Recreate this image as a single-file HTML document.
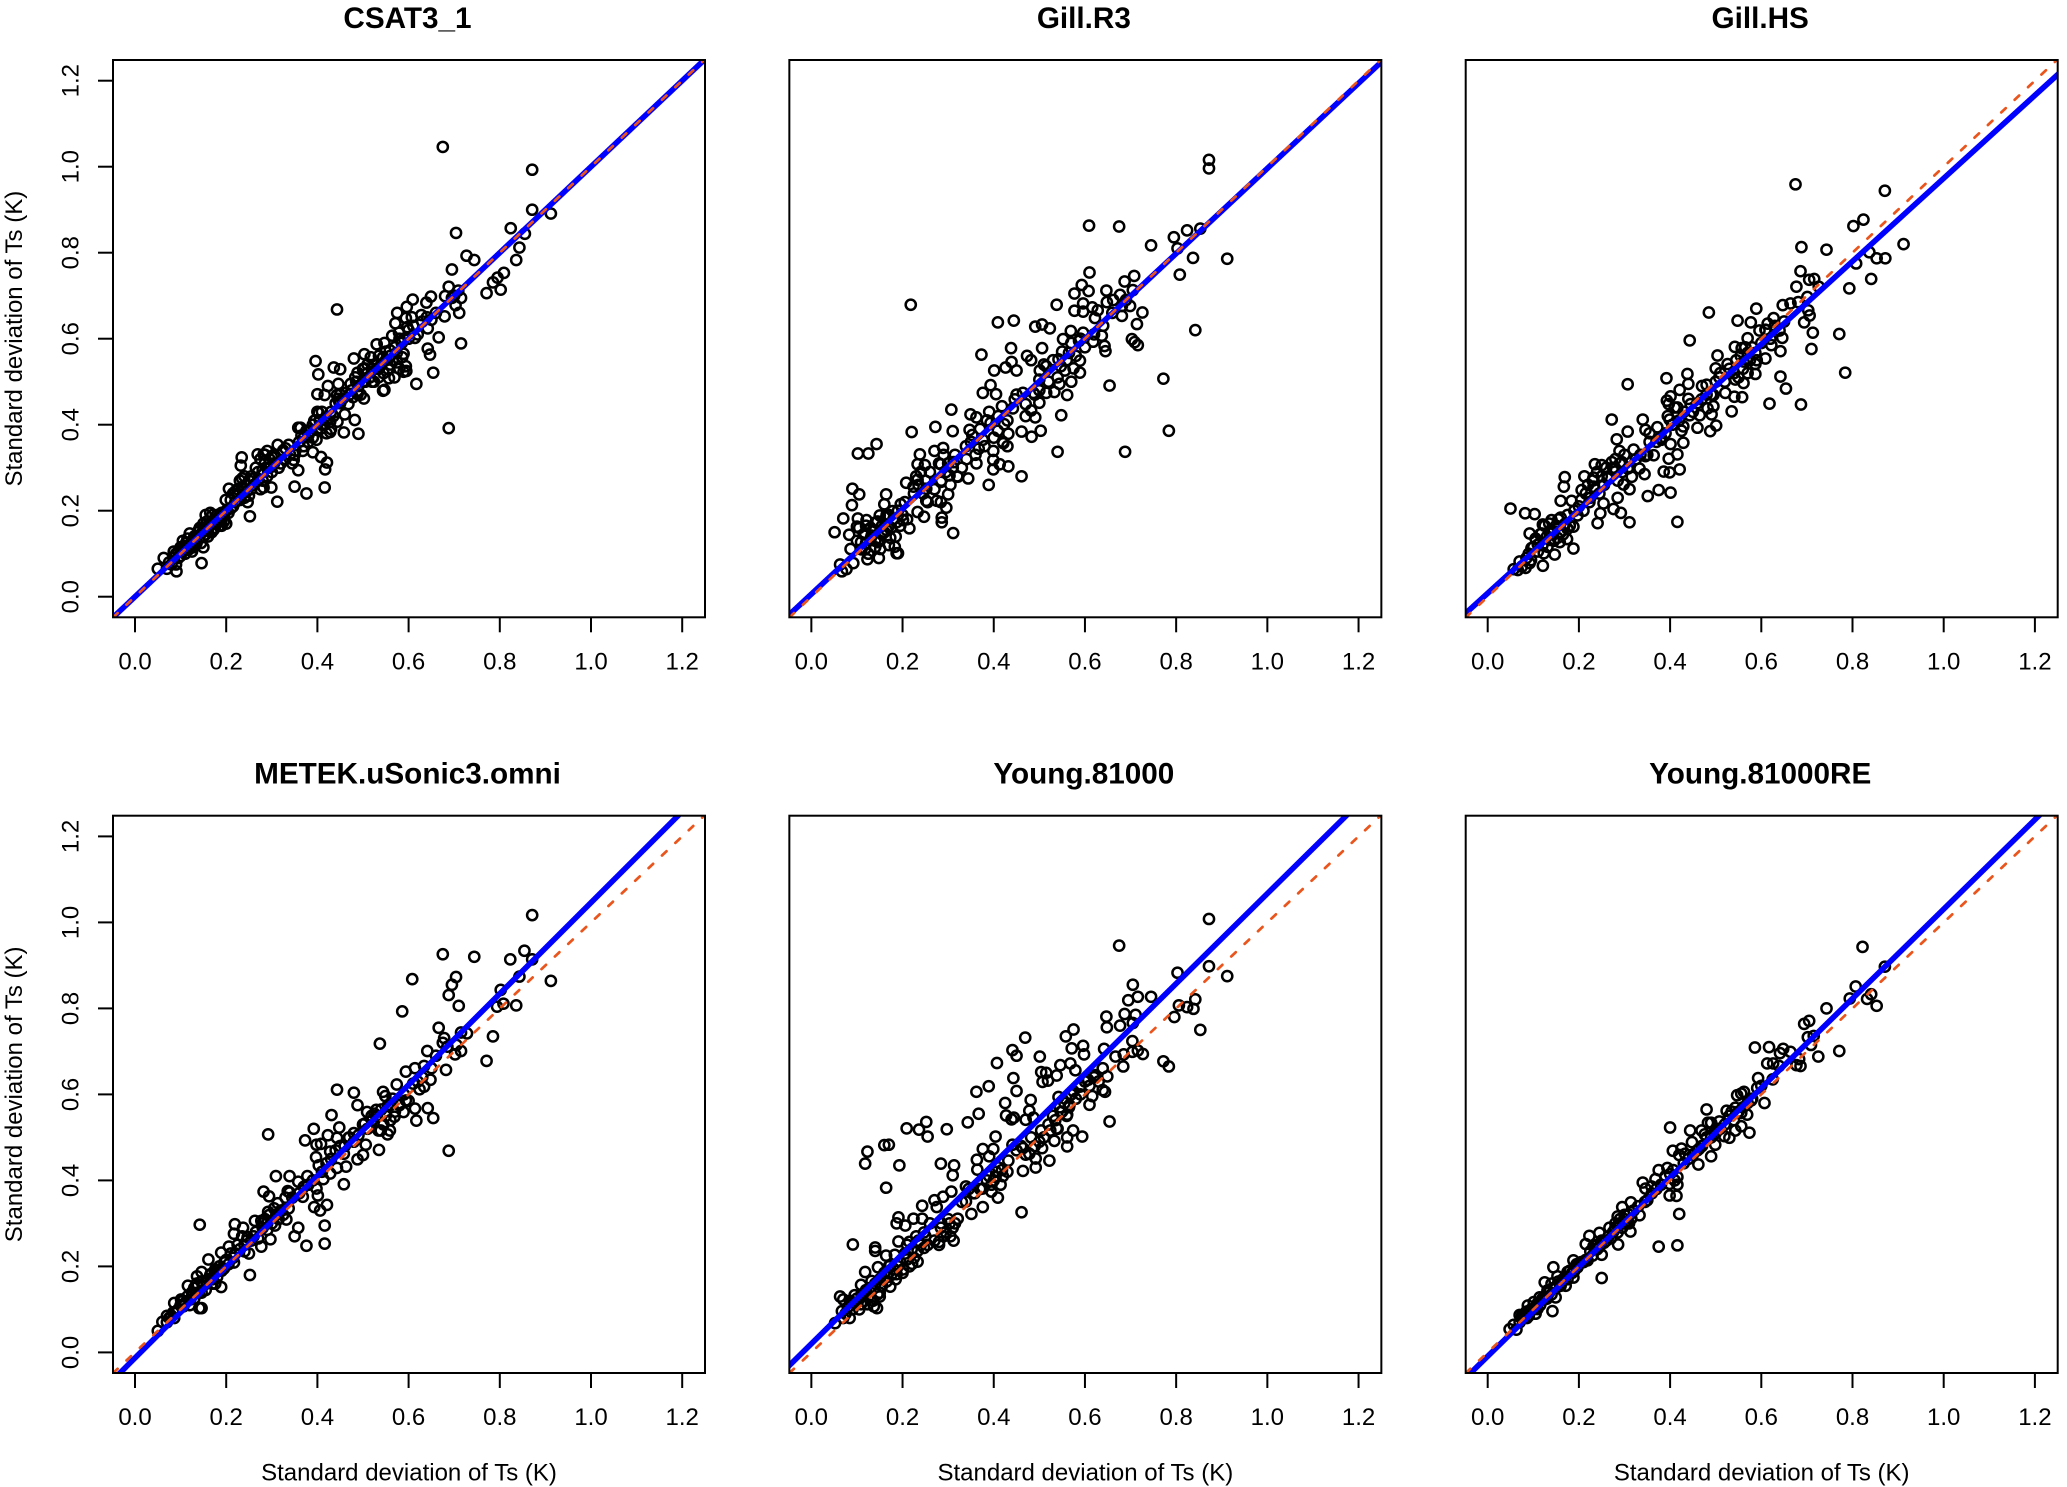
<!DOCTYPE html>
<html lang="en">
<head>
<meta charset="utf-8">
<title>Standard deviation of Ts by sonic anemometer</title>
<style>
html,body{margin:0;padding:0;background:#fff;}
svg{display:block;font-family:"Liberation Sans",Arial,sans-serif;}
</style>
</head>
<body>
<svg id="chart" xmlns="http://www.w3.org/2000/svg" width="2067" height="1487" viewBox="0 0 2067 1487"></svg>
<script>
const panelTitles = ["CSAT3_1","Gill.R3","Gill.HS","METEK.uSonic3.omni","Young.81000","Young.81000RE"];
const tickValues = [0,0.2,0.4,0.6,0.8,1.0,1.2];
const tickLabels = ["0.0","0.2","0.4","0.6","0.8","1.0","1.2"];
const axisTitle = "Standard deviation of Ts (K)";
const fitIntercepts = [0.000,0.006,0.008,-0.013,0.020,-0.009];
const fitSlopes = [1.000,0.990,0.965,1.059,1.047,1.040];
const refIntercept = 0;
const refSlope = 1;

const csatX = [.05,.063,.07,.08,.091,.09,.085,.095,.10,.10,.105,.11,.112,.118,.12,.125,.13,.135,.14,.145,.146,.15,.15,.155,.16,.16,.165,.168,.172,.175,.18,.185,.19,.19,.195,.20,.199,.206,.21,.215,.22,.225,.23,.232,.234,.235,.24,.24,.245,.247,.25,.252,.255,.26,.265,.27,.275,.28,.282,.285,.29,.29,.295,.299,.30,.305,.312,.313,.315,.269,.282,.307,.33,.337,.34,.345,.348,.35,.352,.358,.358,.363,.368,.37,.376,.376,.38,.39,.39,.393,.398,.40,.40,.403,.408,.408,.41,.415,.416,.417,.421,.42,.428,.428,.43,.444,.443,.448,.40,.416,.423,.446,.396,.402,.436,.45,.443,.45,.458,.46,.463,.468,.473,.478,.48,.482,.483,.488,.488,.49,.502,.49,.50,.503,.503,.505,.51,.517,.52,.524,.53,.534,.535,.544,.547,.544,.547,.55,.557,.559,.56,.564,.569,.571,.574,.575,.579,.58,.586,.589,.589,.594,.594,.596,.597,.60,.607,.609,.614,.617,.628,.639,.642,.642,.647,.649,.65,.654,.666,.675,.679,.68,.688,.688,.695,.703,.704,.709,.711,.715,.715,.727,.744,.771,.785,.795,.802,.809,.824,.836,.843,.855,.871,.871,.912,
.075,.085,.09,.095,.10,.105,.108,.112,.115,.12,.125,.128,.13,.135,.138,.14,.142,.148,.15,.152,.155,.158,.16,.165,.17,.172,.175,.18,.185,.19,.195,.20,.205,.21,.215,.22,.225,.23,.235,.24,.245,.25,.255,.26,.27,.275,.28,.285,.29,.295,.30,.305,.32,.325,.33,.35,.36,.365,.37,.38,.385,.39,.395,.405,.41,.42,.43,.435,.44,.445,.45,.455,.47,.475,.485,.495,.50,.51,.515,.52,.525,.53,.535,.54,.545,.55,.555,.56,.565,.57,.575,.58,.585,.59,.595,.60,.61,.62,.63,.64,.66,.695,.70];
const csatY = [.065,.09,.065,.075,.059,.075,.105,.09,.115,.095,.13,.10,.125,.11,.147,.105,.12,.14,.155,.125,.078,.17,.115,.19,.14,.165,.195,.15,.17,.16,.175,.165,.18,.195,.19,.17,.225,.251,.205,.24,.22,.25,.27,.305,.324,.255,.28,.23,.26,.22,.235,.187,.28,.26,.30,.27,.25,.295,.254,.31,.339,.28,.30,.254,.325,.31,.221,.353,.30,.331,.331,.324,.32,.353,.33,.31,.318,.256,.34,.294,.393,.393,.339,.37,.386,.24,.36,.336,.37,.409,.365,.43,.39,.427,.391,.325,.43,.40,.254,.296,.312,.38,.383,.407,.39,.407,.469,.453,.471,.469,.49,.495,.548,.517,.533,.529,.668,.45,.382,.424,.474,.448,.495,.464,.554,.411,.51,.471,.521,.379,.461,.49,.53,.531,.564,.50,.54,.557,.50,.50,.587,.51,.53,.479,.481,.557,.59,.55,.508,.573,.54,.607,.51,.636,.567,.66,.614,.53,.557,.565,.523,.536,.648,.674,.627,.60,.65,.691,.602,.495,.655,.684,.624,.577,.563,.698,.644,.521,.603,1.046,.652,.699,.721,.392,.761,.678,.846,.712,.66,.695,.589,.793,.783,.706,.731,.742,.714,.753,.857,.783,.812,.844,.993,.90,.891,
.08,.09,.10,.105,.11,.105,.118,.11,.135,.12,.13,.115,.14,.125,.15,.135,.16,.15,.14,.16,.145,.175,.155,.17,.19,.155,.18,.19,.185,.165,.175,.20,.195,.225,.21,.245,.235,.225,.275,.25,.245,.27,.25,.275,.29,.32,.27,.33,.30,.32,.29,.33,.31,.34,.345,.33,.36,.375,.35,.375,.385,.40,.41,.41,.40,.41,.43,.42,.45,.46,.47,.46,.47,.48,.50,.47,.50,.52,.51,.53,.54,.53,.56,.54,.52,.57,.53,.56,.55,.58,.545,.60,.59,.60,.525,.62,.63,.61,.64,.65,.66,.695,.70];

const gillR3X = [.872,.872,.609,.675,.853,.824,.795,.745,.803,.837,.912,.808,.610,.708,.687,.647,.593,.577,.608,.705,.677,.662,.648,.596,.616,.538,.577,.596,.628,.681,.699,.681,.726,.622,.714,.218,.409,.444,.491,.506,.523,.569,.596,.552,.637,.703,.709,.716,.587,.618,.643,.645,.438,.506,.373,.473,.482,.439,.426,.450,.401,.842,.772,.654,.784,.688,.540,.589,.565,.542,.515,.501,.547,.575,.589,.556,.570,.544,.561,.533,.515,.500,.487,.464,.393,.376,.405,.446,.470,.500,.548,.491,.482,.503,.461,.483,.432,.442,.418,.390,.307,.349,.362,.423,.393,.409,.347,.310,.220,.272,.353,.376,.421,.430,.339,.367,.399,.289,.270,.238,.143,.125,.102,.233,.249,.284,.312,.362,.399,.413,.432,.399,.461,.344,.321,.389,.208,.233,.284,.303,.224,.252,.300,.252,.284,.275,.296,.233,.247,.286,.286,.311,.215,.196,.201,.164,.160,.090,.105,.089,.070,.051,.083,.102,.121,.100,.118,.141,.150,.164,.178,.187,.173,.146,.132,.109,.086,.118,.151,.183,.187,.190,.123,.148,.063,.067,.077,.092,.13,.12,.155,.17,.14,.165,.169,.155,
.10,.105,.11,.115,.12,.125,.13,.135,.14,.145,.15,.155,.16,.165,.17,.175,.18,.185,.19,.195,.20,.205,.21,.225,.23,.235,.24,.245,.25,.255,.26,.27,.28,.285,.29,.295,.30,.305,.31,.315,.32,.33,.34,.35,.36,.37,.38,.385,.40,.41,.42,.43,.45,.47,.49,.50,.51,.52,.53,.54,.55,.56,.57,.58,.59,.60,.62,.64,.66,.69];
const gillR3Y = [1.016,.996,.863,.861,.856,.852,.836,.817,.810,.788,.786,.749,.754,.746,.733,.712,.725,.705,.711,.713,.702,.690,.685,.682,.673,.679,.665,.663,.666,.676,.676,.653,.661,.648,.634,.679,.638,.642,.628,.633,.624,.618,.614,.599,.607,.599,.592,.585,.595,.593,.583,.571,.578,.578,.563,.560,.550,.546,.533,.526,.526,.620,.507,.491,.386,.337,.337,.549,.567,.552,.536,.526,.536,.531,.521,.526,.500,.495,.469,.476,.474,.505,.474,.474,.492,.474,.471,.459,.448,.451,.422,.417,.433,.386,.384,.372,.379,.438,.443,.430,.435,.424,.417,.401,.404,.386,.388,.385,.383,.395,.376,.365,.357,.350,.350,.344,.339,.346,.339,.331,.355,.333,.333,.308,.306,.308,.313,.310,.318,.308,.303,.296,.280,.275,.279,.260,.265,.272,.267,.282,.256,.251,.238,.223,.220,.223,.207,.197,.186,.184,.173,.148,.159,.215,.178,.238,.215,.251,.238,.213,.182,.150,.144,.182,.178,.163,.147,.173,.189,.184,.199,.173,.137,.127,.142,.127,.111,.111,.111,.116,.101,.101,.087,.090,.075,.059,.064,.078,.16,.125,.145,.19,.13,.155,.163,.147,
.13,.16,.11,.145,.165,.10,.135,.155,.115,.175,.13,.165,.15,.19,.12,.16,.18,.14,.20,.165,.19,.22,.18,.24,.28,.26,.29,.24,.27,.22,.29,.25,.31,.27,.33,.29,.31,.26,.30,.33,.28,.30,.32,.36,.33,.39,.35,.41,.37,.42,.36,.41,.47,.42,.47,.48,.54,.50,.55,.51,.57,.55,.59,.56,.60,.58,.61,.63,.66,.69];

const gillHSX = [.675,.871,.824,.802,.912,.688,.743,.837,.853,.872,.808,.841,.686,.705,.716,.793,.726,.677,.701,.664,.647,.681,.703,.706,.694,.589,.485,.548,.577,.627,.614,.596,.609,.640,.646,.713,.771,.642,.710,.784,.642,.654,.618,.687,.443,.570,.542,.557,.504,.570,.622,.587,.609,.587,.561,.526,.500,.587,.561,.543,.508,.438,.392,.440,.307,.480,.421,.521,.541,.558,.495,.469,.393,.401,.397,.445,.416,.495,.535,.482,.465,.443,.399,.272,.340,.491,.501,.488,.460,.429,.425,.372,.346,.307,.283,.355,.381,.401,.429,.320,.289,.416,.364,.346,.397,.235,.250,.272,.294,.280,.307,.333,.344,.386,.399,.421,.169,.167,.212,.232,.263,.316,.298,.232,.206,.311,.285,.401,.375,.351,.160,.184,.223,.254,.276,.292,.311,.416,.247,.241,.197,.050,.082,.103,.160,.140,.121,.092,.145,.175,.188,.118,.174,.153,.136,.188,.096,.110,.123,.147,.121,.092,.070,.066,.083,.057,.131,.158,
.075,.085,.09,.095,.10,.105,.11,.115,.12,.125,.13,.135,.14,.145,.15,.155,.16,.165,.17,.175,.18,.19,.20,.205,.21,.215,.22,.225,.23,.235,.24,.245,.25,.255,.26,.265,.275,.28,.285,.29,.295,.30,.31,.325,.335,.35,.355,.37,.38,.39,.395,.405,.41,.42,.43,.44,.45,.46,.47,.48,.49,.50,.51,.52,.53,.54,.545,.55,.555,.56,.565,.57,.575,.58,.59,.60,.61,.62,.63,.65];
const gillHSY = [.959,.944,.877,.862,.820,.813,.807,.801,.787,.787,.775,.739,.757,.737,.739,.717,.721,.721,.697,.682,.678,.685,.666,.654,.638,.670,.661,.642,.638,.648,.635,.619,.621,.619,.602,.614,.611,.571,.576,.521,.512,.484,.449,.447,.596,.601,.581,.578,.561,.567,.585,.567,.554,.541,.547,.541,.531,.518,.497,.505,.510,.518,.508,.495,.494,.493,.481,.474,.465,.464,.469,.459,.456,.466,.448,.448,.440,.443,.431,.438,.422,.422,.412,.412,.412,.424,.398,.385,.393,.396,.386,.394,.388,.384,.366,.360,.365,.355,.358,.342,.339,.331,.329,.327,.321,.308,.306,.313,.313,.298,.298,.298,.285,.291,.289,.296,.278,.256,.280,.277,.275,.279,.261,.256,.248,.250,.230,.242,.248,.234,.223,.223,.220,.217,.204,.195,.173,.174,.194,.171,.189,.205,.194,.192,.184,.178,.168,.147,.152,.158,.163,.147,.134,.137,.132,.112,.113,.121,.101,.098,.072,.078,.082,.062,.067,.064,.116,.127,
.07,.09,.10,.085,.115,.135,.105,.145,.12,.165,.14,.17,.15,.13,.165,.18,.15,.145,.17,.19,.165,.20,.21,.225,.20,.24,.26,.23,.27,.25,.29,.24,.28,.26,.30,.28,.30,.32,.27,.31,.29,.33,.30,.32,.33,.33,.38,.36,.37,.38,.42,.40,.44,.41,.43,.46,.43,.45,.49,.47,.47,.50,.52,.50,.53,.52,.55,.51,.56,.53,.58,.52,.55,.58,.55,.59,.62,.60,.63,.64];

const metekX = [.871,.675,.744,.854,.823,.871,.608,.704,.695,.688,.843,.912,.802,.710,.836,.808,.794,.586,.666,.715,.728,.785,.678,.675,.537,.705,.685,.641,.715,.702,.771,.614,.634,.650,.594,.682,.574,.634,.648,.443,.480,.544,.549,.488,.624,.594,.614,.642,.617,.654,.589,.569,.431,.509,.529,.519,.559,.504,.534,.559,.554,.539,.392,.448,.373,.480,.423,.398,.408,.443,.468,.506,.535,.688,.292,.397,.428,.458,.500,.488,.403,.463,.443,.428,.378,.309,.339,.458,.413,.358,.398,.339,.368,.401,.282,.294,.313,.393,.406,.421,.337,.292,.332,.416,.358,.350,.376,.416,.142,.219,.237,.217,.263,.277,.307,.297,.277,.247,.206,.250,.252,.161,.189,.136,.116,.086,.156,.189,.176,.196,.217,.146,.126,.141,.146,.101,.106,.086,.050,.060,.070,.084,.121,.166,.176,.146,.13,.17,.18,.22,.24,.26,.29,.32,.28,.33,
.07,.075,.08,.09,.095,.10,.105,.11,.115,.12,.125,.13,.135,.14,.145,.15,.155,.16,.165,.17,.175,.18,.185,.19,.195,.20,.205,.21,.215,.225,.23,.235,.24,.245,.255,.265,.27,.28,.285,.29,.295,.30,.305,.31,.315,.325,.335,.345,.36,.37,.38,.39,.41,.42,.43,.44,.45,.46,.47,.48,.49,.50,.51,.52,.525,.53,.54,.545,.55,.555,.56,.565,.57,.58,.59,.60,.61,.62,.63,.66];
const metekY = [1.017,.926,.920,.934,.914,.914,.868,.873,.855,.831,.874,.864,.843,.806,.807,.811,.804,.793,.755,.744,.742,.735,.731,.720,.718,.715,.711,.701,.701,.693,.678,.661,.666,.661,.653,.657,.623,.618,.634,.611,.604,.606,.596,.575,.612,.586,.567,.568,.539,.545,.559,.548,.552,.559,.564,.550,.575,.532,.516,.516,.507,.516,.520,.523,.493,.510,.505,.483,.485,.499,.499,.483,.471,.469,.507,.454,.467,.462,.459,.449,.435,.432,.429,.416,.410,.410,.410,.391,.403,.397,.381,.372,.362,.365,.374,.363,.347,.338,.330,.343,.335,.327,.309,.295,.290,.270,.248,.253,.297,.298,.290,.276,.306,.306,.295,.263,.246,.268,.246,.230,.180,.216,.232,.177,.155,.115,.166,.152,.193,.209,.209,.139,.133,.103,.103,.123,.107,.080,.050,.071,.085,.093,.123,.182,.160,.187,.15,.17,.19,.23,.25,.27,.30,.33,.29,.36,
.07,.08,.085,.095,.10,.11,.12,.115,.13,.11,.14,.125,.16,.14,.165,.155,.145,.17,.18,.16,.185,.175,.20,.19,.195,.215,.205,.23,.22,.25,.24,.27,.235,.26,.26,.28,.265,.30,.31,.285,.32,.30,.335,.32,.31,.32,.375,.36,.37,.385,.39,.40,.42,.44,.45,.47,.48,.48,.50,.49,.505,.53,.52,.54,.555,.55,.565,.53,.55,.575,.54,.59,.56,.575,.60,.585,.625,.63,.64,.69];

const young81000X = [.872,.675,.803,.872,.912,.705,.695,.716,.745,.842,.806,.824,.838,.796,.853,.687,.711,.647,.648,.677,.705,.575,.558,.469,.441,.450,.704,.571,.596,.642,.598,.501,.716,.727,.704,.685,.667,.772,.784,.684,.407,.568,.546,.579,.504,.515,.639,.649,.622,.607,.538,.507,.519,.443,.389,.362,.450,.589,.575,.639,.644,.616,.610,.542,.481,.425,.478,.566,.547,.561,.654,.367,.343,.427,.444,.439,.470,.487,.252,.209,.236,.255,.297,.574,.538,.594,.524,.504,.404,.561,.482,.533,.561,.160,.170,.123,.118,.193,.284,.313,.376,.441,.399,.390,.363,.464,.506,.478,.492,.522,.492,.464,.432,.364,.310,.418,.404,.164,.339,.307,.289,.270,.376,.395,.409,.358,.339,.243,.275,.376,.351,.461,.191,.187,.206,.224,.243,.321,.303,.284,.312,.280,.191,.247,.091,.140,.140,.215,.164,.183,.247,.233,.210,.233,.221,.118,.146,.173,.201,.187,.109,.173,.132,.063,.070,.095,.118,.150,.086,.123,.150,.067,.109,.137,.144,.084,.052,
.07,.075,.08,.085,.09,.095,.10,.105,.11,.115,.12,.125,.13,.135,.14,.145,.15,.155,.16,.165,.17,.175,.18,.185,.19,.195,.20,.205,.21,.215,.22,.225,.23,.235,.24,.25,.255,.26,.27,.28,.285,.29,.295,.30,.305,.31,.315,.33,.345,.355,.37,.385,.39,.395,.40,.405,.41,.415,.42,.43,.45,.46,.47,.49,.50,.51,.52,.53,.535,.54,.545,.55,.555,.56,.565,.57,.58,.59,.60,.61,.62,.63];
const young81000Y = [1.008,.946,.883,.898,.875,.855,.819,.827,.827,.821,.807,.803,.799,.780,.750,.787,.785,.781,.756,.760,.766,.751,.735,.732,.703,.690,.724,.707,.713,.706,.693,.688,.702,.694,.699,.693,.688,.677,.665,.665,.673,.672,.668,.656,.652,.650,.661,.642,.645,.634,.644,.629,.632,.638,.619,.606,.608,.618,.607,.610,.606,.596,.576,.594,.587,.580,.562,.575,.559,.553,.537,.555,.535,.551,.546,.542,.541,.546,.536,.521,.518,.502,.519,.516,.521,.502,.516,.516,.502,.500,.500,.492,.479,.482,.483,.467,.439,.435,.439,.435,.473,.483,.473,.456,.448,.475,.475,.462,.451,.446,.430,.422,.446,.425,.412,.424,.408,.383,.386,.374,.362,.354,.381,.374,.360,.370,.351,.341,.338,.338,.322,.326,.314,.300,.295,.311,.311,.311,.300,.290,.260,.257,.258,.279,.251,.244,.236,.257,.225,.227,.243,.236,.216,.211,.206,.187,.198,.203,.193,.182,.157,.153,.166,.130,.123,.133,.139,.139,.117,.112,.130,.096,.112,.107,.103,.080,.068,
.08,.09,.105,.12,.10,.115,.125,.10,.135,.12,.145,.13,.15,.12,.16,.135,.17,.155,.185,.165,.20,.18,.195,.17,.20,.21,.185,.23,.25,.20,.24,.22,.27,.26,.25,.27,.25,.30,.26,.25,.30,.27,.28,.31,.27,.29,.30,.35,.38,.37,.38,.40,.41,.39,.40,.42,.43,.39,.41,.42,.47,.48,.46,.48,.49,.50,.53,.55,.54,.52,.57,.56,.58,.55,.57,.60,.59,.60,.63,.62,.64,.63];

const young81000reX = [.822,.871,.807,.841,.832,.794,.853,.743,.694,.705,.702,.715,.771,.725,.709,.586,.617,.648,.664,.641,.613,.626,.639,.677,.686,.683,.593,.625,.591,.562,.547,.556,.607,.578,.480,.524,.543,.569,.556,.574,.556,.543,.530,.519,.490,.483,.508,.469,.499,.476,.499,.490,.444,.400,.448,.464,.462,.406,.425,.433,.420,.394,.375,.407,.416,.368,.399,.340,.346,.359,.416,.399,.414,.420,.350,.314,.295,.333,.285,.315,.300,.280,.313,.285,.267,.245,.223,.215,.286,.375,.416,.232,.250,.219,.188,.250,.144,.197,.175,.153,.125,.188,.171,.140,.149,.114,.088,.101,.142,.124,.105,.079,.070,.063,.048,.057,.086,.109,.131,.158,.20,.21,.24,.26,.29,.30,.31,.36,.38,.44,.47,.50,.53,.58,.60,
.07,.075,.08,.085,.09,.095,.10,.105,.11,.115,.12,.125,.13,.135,.14,.145,.15,.155,.16,.165,.17,.175,.18,.185,.19,.195,.205,.215,.225,.23,.235,.24,.245,.25,.255,.265,.27,.275,.28,.285,.29,.295,.30,.305,.31,.32,.33,.345,.37,.39,.40,.41,.43,.45,.46,.48,.49,.505,.51,.52,.535,.54,.55,.56,.57];
const young81000reY = [.943,.897,.851,.833,.822,.823,.806,.800,.764,.771,.733,.736,.701,.688,.715,.709,.710,.706,.699,.696,.672,.672,.666,.668,.666,.682,.638,.635,.615,.606,.598,.602,.580,.586,.565,.562,.569,.553,.557,.511,.526,.516,.499,.503,.534,.534,.537,.516,.516,.507,.483,.456,.516,.523,.489,.474,.437,.469,.474,.462,.459,.429,.424,.424,.408,.403,.392,.395,.381,.386,.390,.365,.364,.322,.354,.349,.338,.319,.316,.311,.300,.290,.281,.279,.290,.278,.271,.252,.251,.246,.249,.247,.227,.214,.214,.173,.198,.198,.187,.177,.163,.174,.155,.160,.128,.128,.109,.117,.096,.123,.090,.085,.087,.053,.054,.064,.080,.101,.144,.160,.205,.21,.24,.26,.30,.31,.32,.37,.39,.45,.48,.51,.55,.59,.62,
.07,.085,.08,.095,.085,.10,.10,.105,.115,.11,.125,.13,.125,.14,.135,.15,.15,.165,.155,.17,.175,.17,.19,.185,.19,.205,.21,.215,.235,.225,.24,.25,.245,.26,.255,.27,.265,.28,.30,.295,.31,.29,.32,.30,.30,.33,.34,.35,.38,.41,.415,.40,.44,.46,.47,.50,.50,.52,.52,.53,.56,.54,.56,.57,.58];

const panelXs = [csatX,gillR3X,gillHSX,metekX,young81000X,young81000reX];
const panelYs = [csatY,gillR3Y,gillHSY,metekY,young81000Y,young81000reY];

const svg = document.getElementById('chart');
const NS = 'http://www.w3.org/2000/svg';
const frameW = 592, frameH = 557.3;
const pxPerX = 456, pxPerY = 430;
const domainMin = -0.048;

function make(tag, parent) {
  const el = document.createElementNS(NS, tag);
  parent.appendChild(el);
  return el;
}
function frameLeft(i) { return 113 + 676.35 * (i % 3); }
function frameTop(i) { return 60 + 755.7 * Math.floor(i / 3); }
function xScale(i, v) { return frameLeft(i) + 22 + pxPerX * v; }
function yScale(i, v) { return frameTop(i) + frameH - 20.6 - pxPerY * v; }

function drawLine(i, group, clipId, intercept, slope, color, width, dash, name, startX) {
  const line = make('line', group);
  
  
  const x1 = 1.26;
  line.setAttribute('x1', xScale(i, startX));
  line.setAttribute('y1', yScale(i, intercept + slope * startX));
  line.setAttribute('x2', xScale(i, x1));
  line.setAttribute('y2', yScale(i, intercept + slope * x1));
  line.setAttribute('stroke', color);
  line.setAttribute('stroke-width', width);
  if (dash) {
    line.setAttribute('stroke-dasharray', dash);
    line.setAttribute('stroke-linecap', 'round');
  }
  line.setAttribute('clip-path', 'url(#' + clipId + ')');
}

panelTitles.forEach(function (title, i) {
  const left = frameLeft(i), top = frameTop(i), bottom = top + frameH;
  const group = make('g', svg);
  
  

  const clipId = 'clip' + i;
  const clip = make('clipPath', group);
  clip.setAttribute('id', clipId);
  const clipRect = make('rect', clip);
  clipRect.setAttribute('x', left);
  clipRect.setAttribute('y', top);
  clipRect.setAttribute('width', frameW);
  clipRect.setAttribute('height', frameH);

  const xs = panelXs[i], ys = panelYs[i];
  const n = Math.min(xs.length, ys.length);
  for (let k = 0; k < n; k++) {
    const c = make('circle', group);
    
    
    c.setAttribute('cx', xScale(i, xs[k]));
    c.setAttribute('cy', yScale(i, ys[k]));
    c.setAttribute('r', 5.1);
    c.setAttribute('fill', 'none');
    c.setAttribute('stroke', '#000');
    c.setAttribute('stroke-width', 2.5);
  }

  drawLine(i, group, clipId, fitIntercepts[i], fitSlopes[i], '#0000ff', 5.6, null, 'regression-line', domainMin - 0.03);
  drawLine(i, group, clipId, refIntercept, refSlope, '#e9551c', 2.7, '6.2 12.2', 'one-to-one-line', domainMin);

  const frame = make('rect', group);
  
  
  frame.setAttribute('x', left);
  frame.setAttribute('y', top);
  frame.setAttribute('width', frameW);
  frame.setAttribute('height', frameH);
  frame.setAttribute('fill', 'none');
  frame.setAttribute('stroke', '#000');
  frame.setAttribute('stroke-width', 2);

  const titleEl = make('text', group);
  
  
  titleEl.setAttribute('x', left + frameW / 2 - 1.5);
  titleEl.setAttribute('y', top - 32);
  titleEl.setAttribute('text-anchor', 'middle');
  titleEl.setAttribute('font-size', '29.7');
  titleEl.setAttribute('font-weight', 'bold');
  titleEl.textContent = title;

  tickValues.forEach(function (v, t) {
    const tick = make('line', group);
    
    
    tick.setAttribute('x1', xScale(i, v));
    tick.setAttribute('x2', xScale(i, v));
    tick.setAttribute('y1', bottom);
    tick.setAttribute('y2', bottom + 15);
    tick.setAttribute('stroke', '#000');
    tick.setAttribute('stroke-width', 2);
    const label = make('text', group);
    
    
    label.setAttribute('x', xScale(i, v));
    label.setAttribute('y', bottom + 52);
    label.setAttribute('text-anchor', 'middle');
    label.setAttribute('font-size', '24');
    label.textContent = tickLabels[t];
  });

  if (i % 3 === 0) {
    tickValues.forEach(function (v, t) {
      const tick = make('line', group);
      
      
      tick.setAttribute('x1', left - 15);
      tick.setAttribute('x2', left);
      tick.setAttribute('y1', yScale(i, v));
      tick.setAttribute('y2', yScale(i, v));
      tick.setAttribute('stroke', '#000');
      tick.setAttribute('stroke-width', 2);
      const label = make('text', group);
      
      
      const ly = yScale(i, v);
      label.setAttribute('x', 78.5);
      label.setAttribute('y', ly);
      label.setAttribute('transform', 'rotate(-90 78.5 ' + ly + ')');
      label.setAttribute('text-anchor', 'middle');
      label.setAttribute('font-size', '24');
      label.textContent = tickLabels[t];
    });
    const yTitle = make('text', group);
    
    
    const cy = top + frameH / 2;
    yTitle.setAttribute('x', 22);
    yTitle.setAttribute('y', cy);
    yTitle.setAttribute('transform', 'rotate(-90 22 ' + cy + ')');
    yTitle.setAttribute('text-anchor', 'middle');
    yTitle.setAttribute('font-size', '24');
    yTitle.textContent = axisTitle;
  }

  if (i >= 3) {
    const xTitle = make('text', group);
    
    
    xTitle.setAttribute('x', left + frameW / 2);
    xTitle.setAttribute('y', bottom + 107.5);
    xTitle.setAttribute('text-anchor', 'middle');
    xTitle.setAttribute('font-size', '24');
    xTitle.textContent = axisTitle;
  }
});
</script>
</body>
</html>
